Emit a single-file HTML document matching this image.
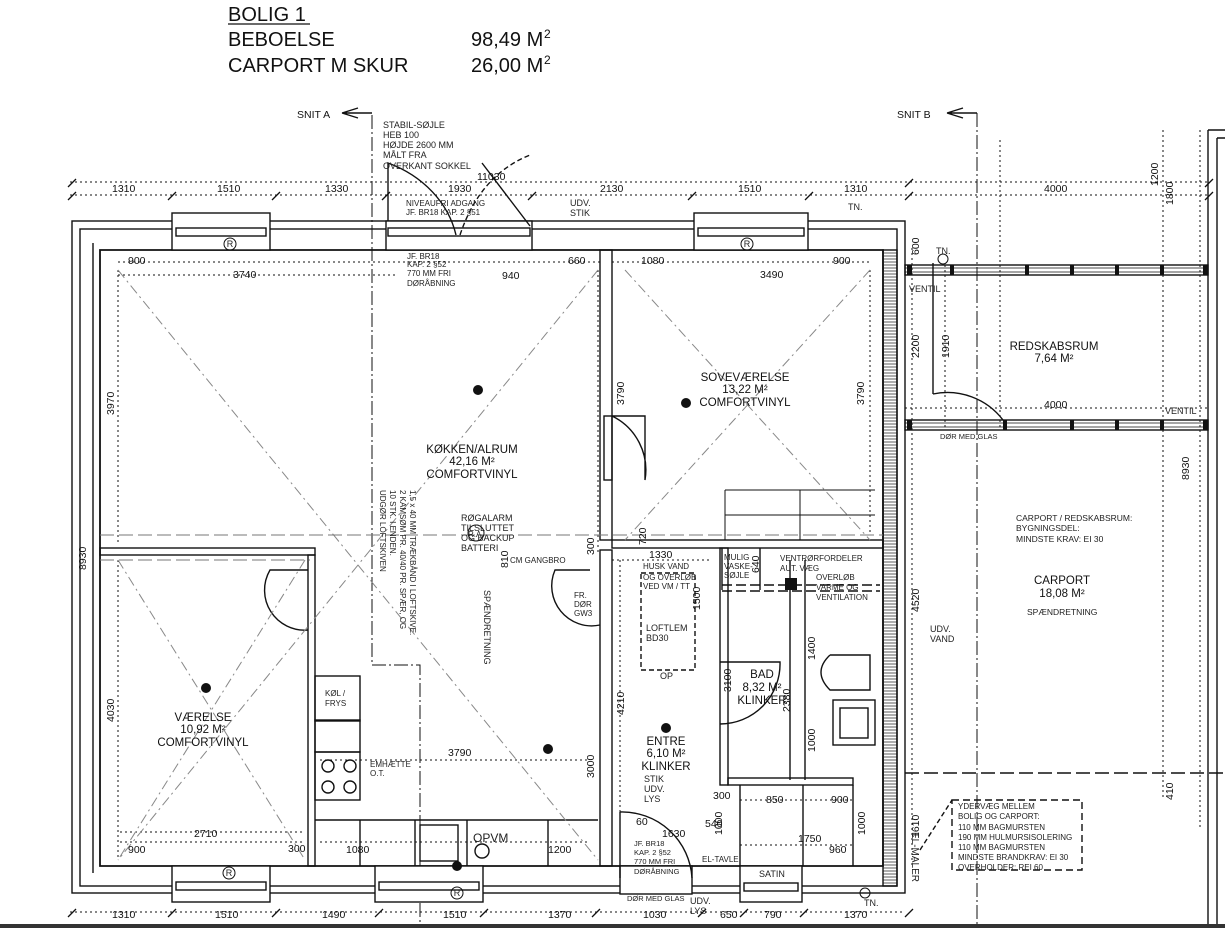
<!DOCTYPE html>
<html><head><meta charset="utf-8"><style>
html,body{margin:0;padding:0;background:#fff;}
svg{display:block;font-family:"Liberation Sans",sans-serif;}
.t{font-size:9px;fill:#222}
.d{font-size:10.5px;fill:#111}
.r{font-size:11.5px;fill:#111}
</style></head><body>
<svg width="1225" height="928" viewBox="0 0 1225 928" xmlns="http://www.w3.org/2000/svg">
<rect width="1225" height="928" fill="#fff"/>
<defs><pattern id="h" width="14" height="3" patternUnits="userSpaceOnUse"><line x1="0" y1="1" x2="14" y2="1" stroke="#333" stroke-width="0.8"/></pattern></defs>
<!-- header -->
<g font-size="20" fill="#111">
<text x="228" y="21">BOLIG 1</text>
<line x1="228" y1="24" x2="310" y2="24" stroke="#111" stroke-width="1.2"/>
<text x="228" y="46">BEBOELSE</text>
<text x="471" y="46">98,49 M</text><text x="544" y="38" font-size="12">2</text>
<text x="228" y="72">CARPORT M SKUR</text>
<text x="471" y="72">26,00 M</text><text x="544" y="64" font-size="12">2</text>
</g>
<g stroke="#111" fill="none" stroke-width="1.4">
<path d="M372 115 V665 H420 V925" stroke-dasharray="14 3 2 3" stroke-width="1"/>
<path d="M342 113 H372 M342 113 l16 -5 M342 113 l16 5"/>
<path d="M977 113 V928" stroke-dasharray="14 3 2 3" stroke-width="1"/>
<path d="M947 113 H977 M947 113 l16 -5 M947 113 l16 5"/>
<g stroke-dasharray="2 3" stroke-width="1">
<line x1="70" y1="182" x2="1210" y2="182"/>
<line x1="70" y1="195" x2="905" y2="195"/>
<line x1="70" y1="912" x2="905" y2="912"/>
<line x1="118" y1="262" x2="600" y2="262"/>
<line x1="118" y1="275" x2="395" y2="275"/>
<line x1="612" y1="262" x2="870" y2="262"/>
<line x1="905" y1="195" x2="1210" y2="195"/>
<line x1="905" y1="408" x2="1210" y2="408"/>
<line x1="118" y1="270" x2="118" y2="545"/>
<line x1="118" y1="560" x2="118" y2="860"/>
<line x1="870" y1="270" x2="870" y2="535"/>
<line x1="620" y1="560" x2="620" y2="860"/>
<line x1="912" y1="248" x2="912" y2="866"/>
<line x1="945" y1="265" x2="945" y2="430"/>
<line x1="1000" y1="140" x2="1000" y2="430"/>
<line x1="1163" y1="130" x2="1163" y2="800"/>
<line x1="1200" y1="130" x2="1200" y2="830"/>
<line x1="120" y1="842" x2="305" y2="842"/>
<line x1="120" y1="832" x2="305" y2="832"/>
<line x1="320" y1="842" x2="590" y2="842"/>
<line x1="320" y1="760" x2="590" y2="760"/>
<line x1="598" y1="270" x2="598" y2="555"/>
<line x1="740" y1="800" x2="855" y2="800"/>
<line x1="740" y1="845" x2="855" y2="845"/>
<line x1="612" y1="560" x2="710" y2="560"/>
</g>
<g stroke-width="1.3">
<path d="M68 187 l8 -8 M68 200 l8 -8 M168 200 l8 -8 M272 200 l8 -8 M382 200 l8 -8 M528 200 l8 -8 M688 200 l8 -8 M805 200 l8 -8 M905 200 l8 -8 M905 187 l8 -8 M1205 187 l8 -8 M1205 200 l8 -8"/>
<path d="M68 917 l8 -8 M168 917 l8 -8 M272 917 l8 -8 M375 917 l8 -8 M480 917 l8 -8 M592 917 l8 -8 M698 917 l8 -8 M740 917 l8 -8 M800 917 l8 -8 M905 917 l8 -8"/>
</g>
<rect x="72" y="221" width="833" height="672"/>
<rect x="80" y="229" width="817" height="657"/>
<path d="M100 250 H883 V866 H100 Z" stroke-width="1.8"/>
<path d="M93 243 V873"/>
<rect x="883" y="250" width="14" height="636" fill="url(#h)"/>
<rect x="172" y="213" width="98" height="37" fill="#fff"/>
<rect x="176" y="228" width="90" height="8"/>
<rect x="694" y="213" width="114" height="37" fill="#fff"/>
<rect x="698" y="228" width="106" height="8"/>
<rect x="386" y="221" width="146" height="29" fill="#fff"/>
<rect x="388" y="228" width="142" height="8"/>
<path d="M388 221 V163 A115 100 0 0 1 456 235"/>
<path d="M460 235 Q480 175 530 155" stroke-dasharray="5 3"/>
<path d="M530 226 L482 163"/>
<rect x="172" y="866" width="98" height="36" fill="#fff"/>
<rect x="176" y="882" width="90" height="8"/>
<rect x="375" y="866" width="108" height="36" fill="#fff"/>
<rect x="379" y="882" width="100" height="8"/>
<rect x="620" y="866" width="72" height="28" fill="#fff"/>
<rect x="740" y="866" width="62" height="36" fill="#fff"/>
<rect x="744" y="883" width="54" height="8"/>
<rect x="600" y="250" width="12" height="290"/>
<rect x="600" y="550" width="12" height="316"/>
<rect x="612" y="540" width="271" height="8"/>
<rect x="100" y="548" width="215" height="7"/>
<rect x="308" y="555" width="7" height="311"/>
<rect x="720" y="548" width="8" height="237"/>
<rect x="728" y="778" width="125" height="7"/>
<path d="M740 785 V866 M803 785 V866 M853 785 V866"/>
<path d="M612 416 H645 V480 A 60 60 0 0 0 612 416" />
<rect x="604" y="416" width="8" height="64"/>
<path d="M308 570 H270 A 40 40 0 0 0 308 630"/>
<path d="M590 570 H555 A 40 40 0 0 0 600 625"/>
<path d="M720 662 H780 A 60 60 0 0 1 720 724"/>
<path d="M620 812 V878 M620 812 A 70 70 0 0 1 692 878"/>
<path d="M933 263 V394 M933 394 A 70 70 0 0 1 1003 420"/>
<path d="M790 560 V780 M805 560 V780 M830 655 H870 V690 H830 Q812 672 830 655"/>
<rect x="833" y="700" width="42" height="45"/><rect x="840" y="708" width="28" height="30"/>
<path d="M722 585 H880 M722 591 H880" stroke-dasharray="10 4"/>
<path d="M722 548 V590 M760 548 V590"/>
<rect x="315" y="676" width="45" height="45"/>
<rect x="315" y="720" width="45" height="32"/>
<rect x="315" y="752" width="45" height="48"/>
<circle cx="328" cy="766" r="6"/><circle cx="350" cy="766" r="6"/><circle cx="328" cy="787" r="6"/><circle cx="350" cy="787" r="6"/>
<path d="M315 820 H598 M360 820 V866 M415 820 V866 M467 820 V866 M548 820 V866"/>
<rect x="420" y="825" width="38" height="36"/>
<circle cx="482" cy="851" r="7"/>
<path d="M725 490 H875 M725 540 V490 M800 540 V490 M725 515 H875" stroke-width="1"/>
<rect x="641" y="573" width="54" height="97" stroke-dasharray="5 3"/>
<g stroke="#888" stroke-width="1" stroke-dasharray="10 4 2 4">
<path d="M118 270 L598 860 M598 270 L118 860"/>
<path d="M625 270 L870 540 M870 270 L625 540"/>
<path d="M118 560 L305 860 M305 560 L118 860"/>
</g>
<path d="M100 535 H883 M100 560 H310" stroke="#777" stroke-dasharray="14 5" stroke-width="1"/>
<path d="M905 773 H1225" stroke-dasharray="14 5"/>
<rect x="905" y="265" width="303" height="10"/>
<path d="M905 268 H1208 M905 272 H1208" stroke-width="0.8"/>
<rect x="905" y="420" width="303" height="10"/>
<path d="M905 423 H1208 M905 427 H1208" stroke-width="0.8"/>
<path d="M1208 130 V928 M1217 138 V928 M1208 130 H1225 M1217 138 H1225"/>
<rect x="952" y="800" width="130" height="70" stroke-dasharray="7 4"/>
<path d="M920 850 L952 800" stroke-dasharray="5 3"/>
</g>
<g fill="#111">
<rect x="907" y="265" width="5" height="10"/><rect x="950" y="265" width="4" height="10"/><rect x="1025" y="265" width="4" height="10"/><rect x="1070" y="265" width="4" height="10"/><rect x="1115" y="265" width="4" height="10"/><rect x="1160" y="265" width="4" height="10"/><rect x="1203" y="265" width="5" height="10"/>
<rect x="907" y="420" width="5" height="10"/><rect x="1003" y="420" width="4" height="10"/><rect x="1070" y="420" width="4" height="10"/><rect x="1115" y="420" width="4" height="10"/><rect x="1160" y="420" width="4" height="10"/><rect x="1203" y="420" width="5" height="10"/>
</g>
<rect x="0" y="924" width="1225" height="4" fill="#333"/>
<g fill="#111">
<circle cx="478" cy="390" r="5"/><circle cx="686" cy="403" r="5"/><circle cx="206" cy="688" r="5"/><circle cx="548" cy="749" r="5"/><circle cx="666" cy="728" r="5"/><circle cx="457" cy="866" r="5"/>
<rect x="785" y="578" width="12" height="12"/>
</g>
<g fill="none" stroke="#111"><circle cx="230" cy="244" r="6"/><circle cx="747" cy="244" r="6"/><circle cx="229" cy="873" r="6"/><circle cx="457" cy="893" r="6"/><circle cx="476" cy="533" r="8"/><circle cx="865" cy="893" r="5"/><circle cx="943" cy="259" r="5"/></g>
<g class="d">
<text x="297" y="118">SNIT A</text><text x="897" y="118">SNIT B</text>
<text x="112" y="192">1310</text><text x="217" y="192">1510</text><text x="325" y="192">1330</text><text x="448" y="192">1930</text><text x="477" y="180">11030</text><text x="600" y="192">2130</text><text x="738" y="192">1510</text><text x="844" y="192">1310</text><text x="1044" y="192">4000</text>
<text x="112" y="918">1310</text><text x="215" y="918">1510</text><text x="322" y="918">1490</text><text x="443" y="918">1510</text><text x="548" y="918">1370</text><text x="643" y="918">1030</text><text x="720" y="918">650</text><text x="764" y="918">790</text><text x="844" y="918">1370</text>
<text x="128" y="264">900</text><text x="233" y="278">3740</text><text x="502" y="279">940</text><text x="568" y="264">660</text><text x="641" y="264">1080</text><text x="760" y="278">3490</text><text x="833" y="264">900</text>
<text x="1044" y="408">4000</text>
<text x="194" y="837">2710</text><text x="128" y="853">900</text><text x="288" y="852">300</text><text x="346" y="853">1080</text><text x="548" y="853">1200</text><text x="448" y="756">3790</text>
<text x="649" y="558">1330</text><text x="662" y="837">1630</text><text x="705" y="827">540</text><text x="766" y="803">850</text><text x="831" y="803">900</text><text x="798" y="842">1750</text><text x="829" y="853">960</text><text x="713" y="799">300</text><text x="636" y="825">60</text>
</g>
<g class="d" font-size="10">
<text transform="translate(86 570) rotate(-90)">8930</text>
<text transform="translate(114 415) rotate(-90)">3970</text>
<text transform="translate(114 722) rotate(-90)">4030</text>
<text transform="translate(864 405) rotate(-90)">3790</text>
<text transform="translate(624 405) rotate(-90)">3790</text>
<text transform="translate(646 545) rotate(-90)">720</text>
<text transform="translate(624 715) rotate(-90)">4210</text>
<text transform="translate(594 778) rotate(-90)">3000</text>
<text transform="translate(594 555) rotate(-90)">300</text>
<text transform="translate(700 610) rotate(-90)">1500</text>
<text transform="translate(731 692) rotate(-90)">3100</text>
<text transform="translate(790 712) rotate(-90)">2380</text>
<text transform="translate(815 660) rotate(-90)">1400</text>
<text transform="translate(815 752) rotate(-90)">1000</text>
<text transform="translate(722 835) rotate(-90)">1000</text>
<text transform="translate(865 835) rotate(-90)">1000</text>
<text transform="translate(919 612) rotate(-90)">4520</text>
<text transform="translate(919 255) rotate(-90)">600</text>
<text transform="translate(919 358) rotate(-90)">2200</text>
<text transform="translate(949 358) rotate(-90)">1910</text>
<text transform="translate(1158 186) rotate(-90)">1200</text>
<text transform="translate(1173 205) rotate(-90)">1800</text>
<text transform="translate(1189 480) rotate(-90)">8930</text>
<text transform="translate(1173 800) rotate(-90)">410</text>
<text transform="translate(919 838) rotate(-90)">1610</text>
<text transform="translate(508 568) rotate(-90)">810</text>
<text transform="translate(759 573) rotate(-90)">640</text>
</g>
<g class="r" text-anchor="middle">
<text x="472" y="453">KØKKEN/ALRUM</text><text x="472" y="465">42,16 M²</text><text x="472" y="478">COMFORTVINYL</text>
<text x="745" y="381">SOVEVÆRELSE</text><text x="745" y="393">13,22 M²</text><text x="745" y="406">COMFORTVINYL</text>
<text x="203" y="721">VÆRELSE</text><text x="203" y="733">10,92 M²</text><text x="203" y="746">COMFORTVINYL</text>
<text x="762" y="678">BAD</text><text x="762" y="691">8,32 M²</text><text x="762" y="704">KLINKER</text>
<text x="666" y="745">ENTRE</text><text x="666" y="757">6,10 M²</text><text x="666" y="770">KLINKER</text>
<text x="1054" y="350">REDSKABSRUM</text><text x="1054" y="362">7,64 M²</text>
<text x="1062" y="584">CARPORT</text><text x="1062" y="597">18,08 M²</text>
</g>
<g class="t">
<text x="383" y="128">STABIL-SØJLE</text><text x="383" y="138">HEB 100</text><text x="383" y="148">HØJDE 2600 MM</text><text x="383" y="158">MÅLT FRA</text><text x="383" y="169">OVERKANT SOKKEL</text>
<text x="406" y="206" font-size="8">NIVEAUFRI ADGANG</text><text x="406" y="215" font-size="8">JF. BR18 KAP. 2 §51</text>
<text x="570" y="206">UDV.</text><text x="570" y="216">STIK</text>
<text x="407" y="259" font-size="8">JF. BR18</text><text x="407" y="267" font-size="8">KAP. 2 §52</text><text x="407" y="276" font-size="8">770 MM FRI</text><text x="407" y="286" font-size="8">DØRÅBNING</text>
<text x="848" y="210">TN.</text><text x="936" y="254">TN.</text><text x="909" y="292">VENTIL</text><text x="1165" y="414">VENTIL</text><text x="940" y="439" font-size="7.5">DØR MED GLAS</text>
<text x="461" y="521">RØGALARM</text><text x="461" y="531">TILSLUTTET</text><text x="461" y="541">OG BACKUP</text><text x="461" y="551">BATTERI</text>
<text x="510" y="563" font-size="8">CM GANGBRO</text>
<text x="574" y="598" font-size="8">FR.</text><text x="574" y="607" font-size="8">DØR</text><text x="574" y="616" font-size="8">GW3</text>
<text x="643" y="569" font-size="8">HUSK VAND</text><text x="643" y="580" font-size="8">OG OVERLØB</text><text x="643" y="589" font-size="8">VED VM / TT</text>
<text x="646" y="631">LOFTLEM</text><text x="646" y="641">BD30</text><text x="660" y="679">OP</text>
<text x="724" y="560" font-size="8">MULIG</text><text x="724" y="569" font-size="8">VASKE-</text><text x="724" y="578" font-size="8">SØJLE</text>
<text x="780" y="561" font-size="8">VENTRØRFORDELER</text><text x="780" y="571" font-size="8">AUT. VÆG</text><text x="816" y="580" font-size="8">OVERLØB</text><text x="816" y="590" font-size="8">VARME OG</text><text x="816" y="600" font-size="8">VENTILATION</text>
<text x="930" y="632">UDV.</text><text x="930" y="642">VAND</text>
<text x="1016" y="521" font-size="8.5">CARPORT / REDSKABSRUM:</text><text x="1016" y="531" font-size="8.5">BYGNINGSDEL:</text><text x="1016" y="542" font-size="8.5">MINDSTE KRAV: EI 30</text>
<text x="1027" y="615" font-size="8.5">SPÆNDRETNING</text>
<text x="958" y="809" font-size="8">YDERVÆG MELLEM</text><text x="958" y="819" font-size="8">BOLIG OG CARPORT:</text><text x="958" y="830" font-size="8">110 MM BAGMURSTEN</text><text x="958" y="840" font-size="8">190 MM HULMURSISOLERING</text><text x="958" y="850" font-size="8">110 MM BAGMURSTEN</text><text x="958" y="860" font-size="8">MINDSTE BRANDKRAV: EI 30</text><text x="958" y="870" font-size="8">OVERHOLDER: REI 60</text>
<text x="644" y="782">STIK</text><text x="644" y="792">UDV.</text><text x="644" y="802">LYS</text>
<text x="634" y="846" font-size="7.5">JF. BR18</text><text x="634" y="855" font-size="7.5">KAP. 2 §52</text><text x="634" y="864" font-size="7.5">770 MM FRI</text><text x="634" y="874" font-size="7.5">DØRÅBNING</text>
<text x="702" y="862" font-size="8">EL-TAVLE</text><text x="759" y="877">SATIN</text>
<text x="627" y="901" font-size="7.5">DØR MED GLAS</text><text x="690" y="904">UDV.</text><text x="690" y="914">LYS</text>
<text x="864" y="906">TN.</text>
<text x="325" y="696" font-size="8">KØL /</text><text x="325" y="706" font-size="8">FRYS</text>
<text x="370" y="767" font-size="8">EMHÆTTE</text><text x="370" y="776" font-size="8">O.T.</text>
<text x="473" y="842" font-size="12">OPVM</text>
<text transform="translate(912 832) rotate(90)" font-size="10">EL-MALER</text>
<text transform="translate(484 590) rotate(90)">SPÆNDRETNING</text>
<text transform="translate(410 490) rotate(90)" font-size="8">1,5 x 40 MM TRÆKBÅND I LOFTSKIVE.</text>
<text transform="translate(400 490) rotate(90)" font-size="8">2 KAMSØM PR. 40/40 PR. SPÆR, OG</text>
<text transform="translate(390 490) rotate(90)" font-size="8">10 STK. I ENDEN.</text>
<text transform="translate(380 490) rotate(90)" font-size="8">UDGØR LOFTSKIVEN</text>
<text x="468" y="537" font-size="8">R.A</text>
</g>
<g class="t" font-size="7" text-anchor="middle"><text x="230" y="247">R</text><text x="747" y="247">R</text><text x="229" y="876">R</text><text x="457" y="896">R</text></g>
</svg>
</body></html>
